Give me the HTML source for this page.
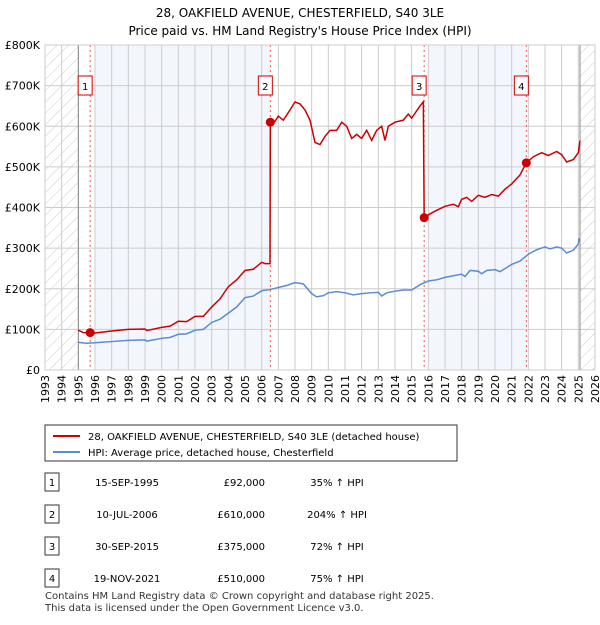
<!DOCTYPE html>
<html><head><meta charset="utf-8"><style>
body{margin:0;background:#fff;font-family:"Liberation Sans","DejaVu Sans",sans-serif;}
svg text{font-family:"DejaVu Sans","Liberation Sans",sans-serif;}
</style></head><body>
<svg id="c" width="600" height="620" xmlns="http://www.w3.org/2000/svg">
<defs><pattern id="hatch" width="8" height="8" patternUnits="userSpaceOnUse" patternTransform="rotate(45)"><line x1="0" y1="0" x2="0" y2="8" stroke="#ccc" stroke-width="1"/></pattern></defs>
<text x="300" y="17" text-anchor="middle" font-size="12">28, OAKFIELD AVENUE, CHESTERFIELD, S40 3LE</text>
<text x="300" y="35" text-anchor="middle" font-size="12">Price paid vs. HM Land Registry's House Price Index (HPI)</text>
<g id="plot"></g>
<g>
<rect x="45" y="425" width="412" height="36" fill="#fff" stroke="#333"/>
<line x1="53" y1="436" x2="80" y2="436" stroke="#cc0000" stroke-width="2"/>
<text x="88" y="440" font-size="10">28, OAKFIELD AVENUE, CHESTERFIELD, S40 3LE (detached house)</text>
<line x1="53" y1="452" x2="80" y2="452" stroke="#5b8bd0" stroke-width="2"/>
<text x="88" y="456" font-size="10">HPI: Average price, detached house, Chesterfield</text>
</g>
<g id="table" font-size="10"></g>
<text x="45" y="599" font-size="10" fill="#333">Contains HM Land Registry data © Crown copyright and database right 2025.</text>
<text x="45" y="611" font-size="10" fill="#333">This data is licensed under the Open Government Licence v3.0.</text>
</svg>
<script>
const hpiYears=[1995.0,1995.5,1996,1997,1998,1999,1999.1,2000,2000.5,2001,2001.5,2002,2002.5,2003,2003.5,2004,2004.5,2005,2005.5,2006,2006.5,2007,2007.5,2008,2008.5,2009,2009.3,2009.7,2010,2010.5,2011,2011.5,2012,2012.5,2013,2013.2,2013.5,2014,2014.5,2015,2015.5,2016,2016.5,2017,2017.5,2018,2018.2,2018.5,2019,2019.2,2019.5,2020,2020.3,2020.7,2021,2021.5,2022,2022.5,2023,2023.3,2023.7,2024,2024.3,2024.7,2025,2025.05];
const hpiValues=[68,66,67,70,73,74,71,78,80,88,89,98,100,117,125,140,155,178,182,195,198,203,208,215,212,188,180,183,190,193,190,185,188,190,191,182,190,194,197,197,210,219,222,228,232,236,230,245,243,237,245,247,242,252,260,268,285,296,303,298,303,300,288,295,310,325];
const priceYears=[1995,1995.3,1995.7,1996,1997,1998,1999,1999.1,2000,2000.5,2001,2001.5,2002,2002.5,2003,2003.5,2004,2004.5,2005,2005.5,2006,2006.2,2006.5,2006.52,2006.8,2007,2007.3,2007.7,2008,2008.3,2008.6,2008.9,2009.2,2009.5,2009.8,2010.1,2010.5,2010.8,2011.1,2011.4,2011.7,2012,2012.3,2012.6,2012.9,2013.2,2013.4,2013.6,2014,2014.5,2014.8,2015,2015.5,2015.7,2015.75,2016,2016.5,2017,2017.5,2017.8,2018,2018.3,2018.6,2019,2019.4,2019.8,2020.2,2020.6,2021,2021.5,2021.88,2022.3,2022.8,2023.2,2023.7,2024,2024.3,2024.7,2025,2025.1];
const priceValues=[98,92,92,91,96,100,101,97,105,108,120,119,132,132,155,175,205,222,245,248,265,262,262,610,612,625,615,640,660,655,640,615,560,555,575,590,590,610,600,570,580,570,590,565,590,600,565,600,610,615,630,620,650,660,375,382,393,403,408,402,420,425,415,430,425,432,428,445,458,480,510,525,535,528,538,530,512,518,535,565];
const saleLabels=["1","2","3","4"];
const saleYears=[1995.71,2006.52,2015.75,2021.88];
const salePrices=[92,610,375,510];
const saleDates=["15-SEP-1995","10-JUL-2006","30-SEP-2015","19-NOV-2021"];
const salePriceText=["£92,000","£610,000","£375,000","£510,000"];
const saleHpiText=["35% ↑ HPI","204% ↑ HPI","72% ↑ HPI","75% ↑ HPI"];
const yTicks=[0,100,200,300,400,500,600,700,800];
const yTickLabels=["£0","£100K","£200K","£300K","£400K","£500K","£600K","£700K","£800K"];
const xTicks=[];for(let y=1993;y<=2026;y++)xTicks.push(y);

const X0=45,X1=595,Y0=370,Y1=45;
const xs=v=>X0+(v-1993)/(2026-1993)*(X1-X0);
const ys=v=>Y0-v/800*(Y0-Y1);
const NS="http://www.w3.org/2000/svg";
function mk(tag,attrs,parent){const e=document.createElementNS(NS,tag);for(const k in attrs)e.setAttribute(k,attrs[k]);parent.appendChild(e);return e;}
const g=document.getElementById('plot');
let r;
r=mk('rect',{x:X0,y:Y1,width:X1-X0,height:Y0-Y1,fill:'#fff'},g);


r=mk('rect',{x:xs(1996),y:Y1,width:xs(2006.52)-xs(1996),height:Y0-Y1,fill:'#eef3fc',opacity:0.7},g);


r=mk('rect',{x:xs(2016),y:Y1,width:xs(2021.88)-xs(2016),height:Y0-Y1,fill:'#eef3fc',opacity:0.7},g);


r=mk('rect',{x:X0,y:Y1,width:xs(1995)-X0,height:Y0-Y1,fill:'url(#hatch)'},g);


r=mk('rect',{x:xs(2025.1),y:Y1,width:X1-xs(2025.1),height:Y0-Y1,fill:'url(#hatch)'},g);


yTicks.forEach((t,i)=>{
  const l=mk('line',{x1:X0,x2:X1,y1:ys(t),y2:ys(t),stroke:'#ccc','stroke-width':1},g);
  
  
  const tx=mk('text',{x:40,y:ys(t)+4,'text-anchor':'end','font-size':11},g);
  tx.textContent=yTickLabels[i];
  
  
});
xTicks.forEach(t=>{
  const l=mk('line',{x1:xs(t),x2:xs(t),y1:Y1,y2:Y0,stroke:'#ccc','stroke-width':1},g);
  
  
  const tx=mk('text',{x:0,y:0,'text-anchor':'end','font-size':11,transform:`translate(${xs(t)+4},375) rotate(-90)`},g);
  tx.textContent=t;
  
  
});
[1995,2025.1].forEach(t=>{
  const l=mk('line',{x1:xs(t),x2:xs(t),y1:Y1,y2:Y0,stroke:'#888','stroke-width':1},g);
  
  
});
saleYears.forEach((s,i)=>{
  const l=mk('line',{x1:xs(s),x2:xs(s),y1:Y1,y2:Y0,stroke:'#e55','stroke-width':1,'stroke-dasharray':'2,3'},g);
  
  
});
const hp=mk('polyline',{points:hpiYears.map((y,i)=>xs(y)+','+ys(hpiValues[i])).join(' '),fill:'none',stroke:'#5b8bd0','stroke-width':1.5},g);


const pp=mk('polyline',{points:priceYears.map((y,i)=>xs(y)+','+ys(priceValues[i])).join(' '),fill:'none',stroke:'#cc0000','stroke-width':1.5},g);


saleYears.forEach((s,i)=>{
  const c=mk('circle',{cx:xs(s),cy:ys(salePrices[i]),r:4.5,fill:'#cc0000'},g);
  
  
  const b=mk('rect',{x:xs(s)-12,y:76,width:14,height:19,fill:'#fff',stroke:'#cc0000'},g);
  
  
  const t=mk('text',{x:xs(s)-5,y:90,'text-anchor':'middle','font-size':10},g);
  t.textContent=saleLabels[i];
  
  
});
const ob=mk('rect',{x:X0,y:Y1,width:X1-X0,height:Y0-Y1,fill:'none',stroke:'#ccc'},g);


const tb=document.getElementById('table');
saleLabels.forEach((lab,i)=>{
  const y=482+i*32;
  const b=mk('rect',{x:45,y:y-9,width:14,height:18,fill:'#fff',stroke:'#333'},tb);
  
  
  let t=mk('text',{x:52,y:y+4,'text-anchor':'middle'},tb);t.textContent=lab;
  
  
  t=mk('text',{x:127,y:y+4,'text-anchor':'middle'},tb);t.textContent=saleDates[i];
  
  
  t=mk('text',{x:265,y:y+4,'text-anchor':'end'},tb);t.textContent=salePriceText[i];
  
  
  t=mk('text',{x:337,y:y+4,'text-anchor':'middle'},tb);t.textContent=saleHpiText[i];
  
  
});
</script>
</body></html>
